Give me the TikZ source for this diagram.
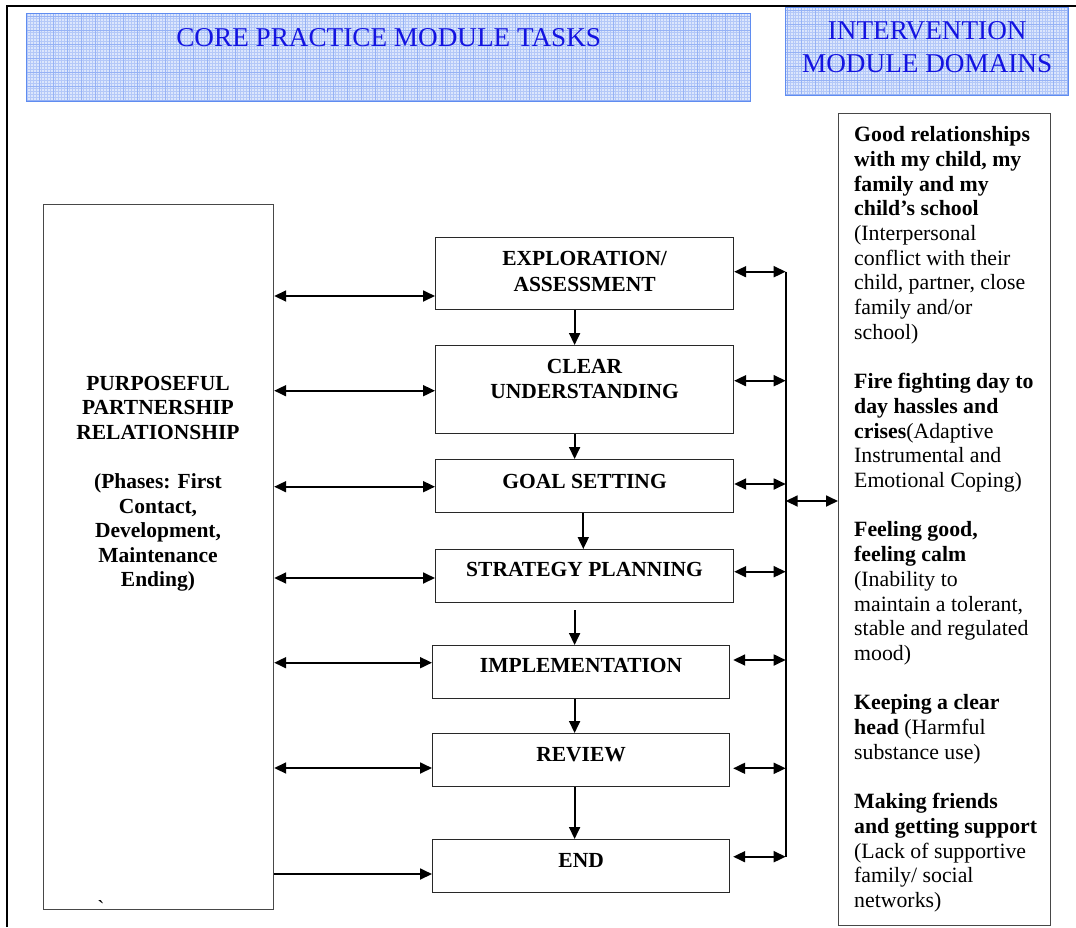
\documentclass[tikz,border=0pt]{standalone}
\usepackage{fontspec}
\setmainfont{Liberation Serif}
\usetikzlibrary{arrows.meta,calc}
\definecolor{hdrblue}{RGB}{20,20,225}
\definecolor{hdrline}{RGB}{95,140,240}
\definecolor{hdrfill}{RGB}{220,230,252}
\definecolor{hdrgrid}{RGB}{180,200,248}
\definecolor{hdrgridb}{RGB}{150,178,245}
\definecolor{boxline}{RGB}{40,40,40}
\newcommand{\mlc}[1]{\begin{tabular}[t]{@{}c@{}}#1\end{tabular}}
\newcommand{\mll}[1]{\begin{tabular}[t]{@{}l@{}}#1\end{tabular}}
\begin{document}
\begin{tikzpicture}[x=1pt,y=-1pt,
  hdr/.style={draw=hdrline, line width=1.4pt, fill=hdrfill, inner sep=0pt, anchor=north west,
    path picture={
      \draw[hdrgrid, line width=0.35pt, step=2.8pt] (path picture bounding box.south west) grid (path picture bounding box.north east);
      \draw[hdrgridb, line width=0.4pt, step=14pt] (path picture bounding box.south west) grid (path picture bounding box.north east);
    }},
  hdrtext/.style={text=hdrblue, font=\fontsize{27.2}{33.4}\selectfont, inner sep=0pt, anchor=base},
  stepbox/.style={draw=boxline, line width=1.2pt, inner sep=0pt, anchor=north west},
  boxtext/.style={font=\fontsize{21.5}{25.3}\selectfont\bfseries, inner sep=0pt, anchor=base},
  arr/.style={-{Triangle[length=12pt,width=11pt]}, line width=1.8pt},
  darr/.style={{Triangle[length=12pt,width=11pt]}-{Triangle[length=12pt,width=11pt]}, line width=1.8pt}]
\useasboundingbox (0,0) rectangle (1076,927);
% outer frame
\draw[line width=2pt] (7,927) -- (7,6) -- (1076,6);
% headers
\node[hdr, minimum width=724pt, minimum height=88pt] (h1) at (26,13) {};
\node[hdrtext] (h1t) at ($(h1.north)+(0,33.7)$) {CORE PRACTICE MODULE TASKS};
\node[hdr, minimum width=283pt, minimum height=88pt] (h2) at (785,7) {};
\node[hdrtext] (h2t) at ($(h2.north)+(0,32.3)$) {\mlc{INTERVENTION\\MODULE DOMAINS}};
% left box
\node[draw=boxline!85, line width=1.2pt, inner sep=0pt, anchor=north west, minimum width=230pt, minimum height=705pt] (pp) at (43,204) {};
\node[font=\fontsize{21.5}{24.6}\selectfont\bfseries, inner sep=0pt, anchor=base] (ppt) at (158,390)
  {\mlc{PURPOSEFUL\\PARTNERSHIP\\RELATIONSHIP\\ \\(Phases: First\\Contact,\\Development,\\Maintenance\\Ending)}};
\node[font=\fontsize{21.5}{24.6}\selectfont, inner sep=0pt, anchor=base] (tick) at (101,915) {\XeTeXglyph\XeTeXcharglyph"60 };
% flow boxes
\node[stepbox, minimum width=298pt, minimum height=72.3pt] (exp) at (435,236.7) {};
\node[stepbox, minimum width=298pt, minimum height=88pt] (clr) at (435,345) {};
\node[stepbox, minimum width=298pt, minimum height=53pt] (gol) at (435,459) {};
\node[stepbox, minimum width=298pt, minimum height=53pt] (str) at (435,549) {};
\node[stepbox, minimum width=297pt, minimum height=53pt] (imp) at (432,645) {};
\node[stepbox, minimum width=297pt, minimum height=53pt] (rev) at (432,733) {};
\node[stepbox, minimum width=297pt, minimum height=53pt] (fin) at (432,839) {};
\node[boxtext] (expt) at ($(exp.north)+(0,29)$) {\mlc{EXPLORATION/\\ASSESSMENT}};
\node[boxtext] (clrt) at ($(clr.north)+(0,28.3)$) {\mlc{CLEAR\\UNDERSTANDING}};
\node[boxtext] (golt) at ($(gol.north)+(0,29)$) {GOAL SETTING};
\node[boxtext] (strt) at ($(str.north)+(0,27.7)$) {STRATEGY PLANNING};
\node[boxtext] (impt) at ($(imp.north)+(0,27.7)$) {IMPLEMENTATION};
\node[boxtext] (revt) at ($(rev.north)+(0,28.7)$) {REVIEW};
\node[boxtext] (fint) at ($(fin.north)+(0,28.7)$) {END};
% right box
\node[draw=boxline!85, line width=1.2pt, inner sep=0pt, anchor=north west, minimum width=212pt, minimum height=812pt] (dom) at (838,113) {};
\node[font=\fontsize{21.8}{24.7}\selectfont, inner sep=0pt, anchor=base west] (domt) at (854,141.7)
  {\mll{\textbf{Good relationships}\\
  \textbf{with my child, my}\\
  \textbf{family and my}\\
  \textbf{child’s school}\\
  (Interpersonal\\
  conflict with their\\
  child, partner, close\\
  family and/or\\
  school)\\
  \\
  \textbf{Fire fighting day to}\\
  \textbf{day hassles and}\\
  \textbf{crises}(Adaptive\\
  Instrumental and\\
  Emotional Coping)\\
  \\
  \textbf{Feeling good,}\\
  \textbf{feeling calm}\\
  (Inability to\\
  maintain a tolerant,\\
  stable and regulated\\
  mood)\\
  \\
  \textbf{Keeping a clear}\\
  \textbf{head} (Harmful\\
  substance use)\\
  \\
  \textbf{Making friends}\\
  \textbf{and getting support}\\
  (Lack of supportive\\
  family/ social\\
  networks)}};
% down arrows
\draw[arr] ([xshift=-10pt]exp.south) -- ([xshift=-10pt]exp.south |- clr.north);
\draw[arr] ([xshift=-10pt]clr.south) -- ([xshift=-10pt]clr.south |- gol.north);
\draw[arr] ([xshift=-1.3pt]gol.south) -- ([xshift=-1.3pt]gol.south |- str.north);
\draw[arr, shorten <=7pt] ([xshift=-10pt]str.south) -- ([xshift=-10pt]str.south |- imp.north);
\draw[arr] ([xshift=-6.5pt]imp.south) -- ([xshift=-6.5pt]imp.south |- rev.north);
\draw[arr] ([xshift=-6.5pt]rev.south) -- ([xshift=-6.5pt]rev.south |- fin.north);
% left connectors
\coordinate (l1) at (0,296);
\coordinate (l2) at (0,390.7);
\coordinate (l3) at (0,486.7);
\coordinate (l4) at (0,578);
\coordinate (l5) at (0,662.7);
\coordinate (l6) at (0,768);
\coordinate (l7) at (0,874);
\draw[darr] (pp.east |- l1) -- (exp.west |- l1);
\draw[darr] (pp.east |- l2) -- (clr.west |- l2);
\draw[darr] (pp.east |- l3) -- (gol.west |- l3);
\draw[darr] (pp.east |- l4) -- (str.west |- l4);
\draw[darr] (pp.east |- l5) -- (imp.west |- l5);
\draw[darr] (pp.east |- l6) -- (rev.west |- l6);
\draw[arr] (pp.east |- l7) -- (fin.west |- l7);
% bus
\coordinate (bt) at (785.7,271.7);
\coordinate (bb) at (785.7,856.7);
\draw[line width=1.8pt] (bt) -- (bb);
\coordinate (r2) at (0,380.7);
\coordinate (r3) at (0,484);
\coordinate (r4) at (0,571.7);
\coordinate (r5) at (0,660);
\coordinate (r6) at (0,768.3);
\coordinate (rd) at (0,501);
\draw[darr] (exp.east |- bt) -- (bt);
\draw[darr] (clr.east |- r2) -- (bt |- r2);
\draw[darr] (gol.east |- r3) -- (bt |- r3);
\draw[darr] (str.east |- r4) -- (bt |- r4);
\draw[darr] ([xshift=3pt]imp.east |- r5) -- (bt |- r5);
\draw[darr] ([xshift=3pt]rev.east |- r6) -- (bt |- r6);
\draw[darr] ([xshift=3pt]fin.east |- bb) -- (bb);
\draw[darr] (bt |- rd) -- (dom.west |- rd);
\end{tikzpicture}
\end{document}
